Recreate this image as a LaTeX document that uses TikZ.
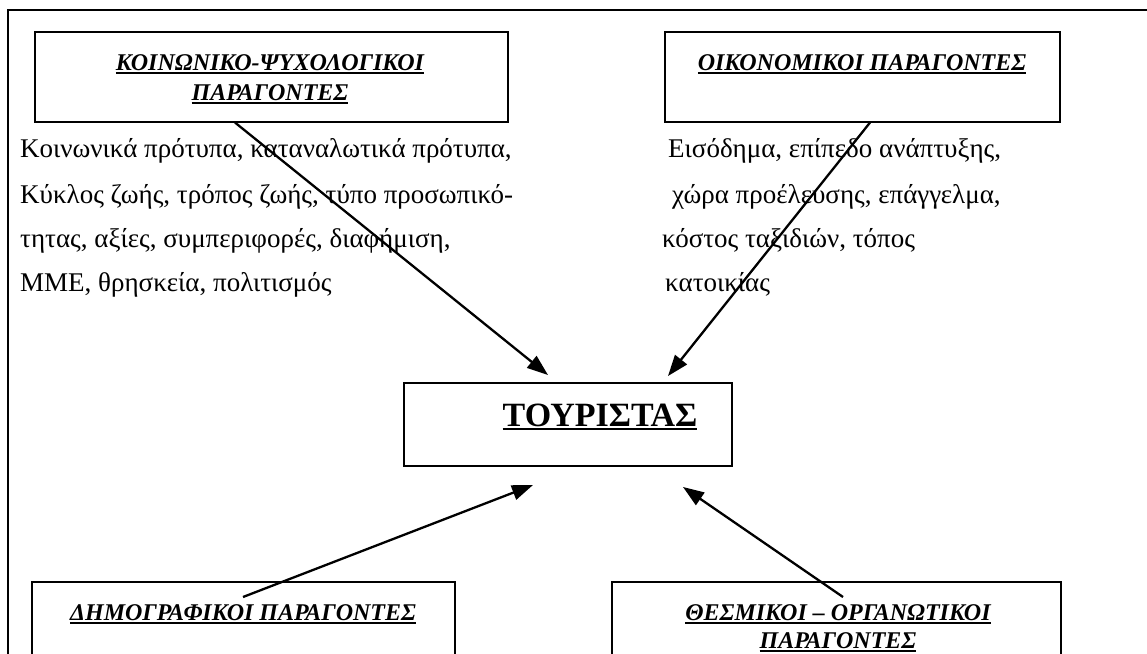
\documentclass[tikz,border=0pt]{standalone}
\usepackage{fontspec}
\setmainfont{Liberation Serif}
\usetikzlibrary{arrows.meta}
\newcommand\myul[1]{\setbox0\hbox{#1}\rlap{\rule[-3.8pt]{\wd0}{2pt}}\box0}
\begin{document}
\begin{tikzpicture}[x=1pt,y=-1pt,
  box/.style={draw, line width=1.1pt, inner sep=0pt},
  ttl/.style={font=\fontsize{24}{30}\selectfont\bfseries\itshape, inner sep=0pt, anchor=base},
  body/.style={font=\fontsize{27}{30}\selectfont, anchor=base west, inner sep=0pt},
  arr/.style={-{Triangle[length=21pt,width=15pt]}, line width=2.3pt}]
\useasboundingbox (0,0) rectangle (1147,653);
\clip (0,0) rectangle (1147,653);
\draw[line width=2.6pt] (8,700) -- (8,10) -- (1160,10);
% boxes
\node[box, minimum width=473pt, minimum height=90pt] (b1) at (271.5,77) {};
\node[box, minimum width=395pt, minimum height=90pt] (b2) at (862.5,77) {};
\node[box, minimum width=328pt, minimum height=83pt] (bc) at (568,424.5) {};
\node[box, minimum width=423pt, minimum height=100pt] (b3) at (243.5,632) {};
\node[box, minimum width=449pt, minimum height=100pt] (b4) at (836.5,632) {};
% titles
\node[ttl] (t1a) at (270,70) {\myul{ΚΟΙΝΩΝΙΚΟ-ΨΥΧΟΛΟΓΙΚΟΙ}};
\node[ttl] (t1b) at (270,100) {\myul{ΠΑΡΑΓΟΝΤΕΣ}};
\node[ttl] (t2) at (862,70) {\myul{ΟΙΚΟΝΟΜΙΚΟΙ ΠΑΡΑΓΟΝΤΕΣ}};
\node[font=\fontsize{34}{38}\selectfont\bfseries, inner sep=0pt, anchor=base] (tc) at (600,426) {\myul{ΤΟΥΡΙΣΤΑΣ}};
\node[ttl] (t3) at (243,620) {\myul{ΔΗΜΟΓΡΑΦΙΚΟΙ ΠΑΡΑΓΟΝΤΕΣ}};
\node[ttl] (t4a) at (838,620) {\myul{ΘΕΣΜΙΚΟΙ – ΟΡΓΑΝΩΤΙΚΟΙ}};
\node[ttl] (t4b) at (838,648) {\myul{ΠΑΡΑΓΟΝΤΕΣ}};
% body text
\node[body] (l1) at (20,157) {Κοινωνικά πρότυπα, καταναλωτικά πρότυπα,};
\node[body] (l2) at (20,203) {Κύκλος ζωής, τρόπος ζωής, τύπο προσωπικό-};
\node[body] (l3) at (20,247) {τητας, αξίες, συμπεριφορές, διαφήμιση,};
\node[body] (l4) at (20,291) {ΜΜΕ, θρησκεία, πολιτισμός};
\node[body] (r1) at (668,157) {Εισόδημα, επίπεδο ανάπτυξης,};
\node[body] (r2) at (672,203) {χώρα προέλευσης, επάγγελμα,};
\node[body] (r3) at (662,247) {κόστος ταξιδιών, τόπος};
\node[body] (r4) at (665,291) {κατοικίας};
% arrows
\coordinate (s1) at (b1.south -| 235,0);
\coordinate (e1) at (548,375);
\coordinate (s2) at (b2.south -| 870,0);
\coordinate (e2) at (668,376);
\coordinate (s3) at (243,597);
\coordinate (e3) at (533,485);
\coordinate (s4) at (843,597);
\coordinate (e4) at (683,487);
\draw[arr] (s1) -- (e1);
\draw[arr] (s2) -- (e2);
\draw[arr] (s3) -- (e3);
\draw[arr] (s4) -- (e4);
\end{tikzpicture}
\end{document}
